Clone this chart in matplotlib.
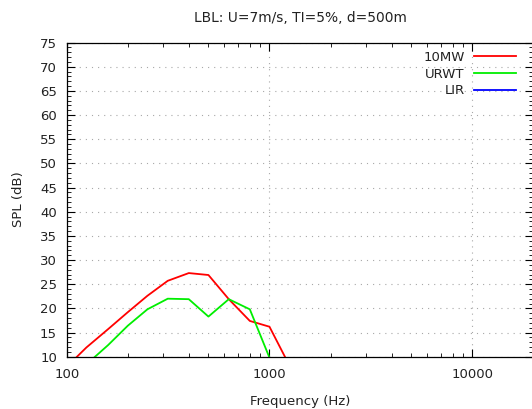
import matplotlib
matplotlib.use("Agg")
import matplotlib.pyplot as plt
from matplotlib.ticker import MultipleLocator, LogLocator, NullFormatter, FixedLocator

# One-third octave band centre frequencies (Hz)
freq = [100, 125, 160, 200, 250, 315, 400, 500, 630, 800, 1000, 1250, 1600]

# Sound pressure level per band (dB)
spl_10mw = [7.9, 11.9, 15.7, 19.2, 22.6, 25.7, 27.3, 26.9, 21.9, 17.4, 16.2, 8.3, 2.0]
spl_urwt = [4.5, 8.4, 12.4, 16.4, 19.8, 22.0, 21.9, 18.3, 21.9, 19.8, 9.8, 1.0, -6.0]
spl_lir = [-2.0, 0.5, 3.0, 5.0, 6.5, 7.5, 8.0, 7.0, 5.5, 3.5, 0.5, -4.0, -9.0]

series_labels = ["10MW", "URWT", "LIR"]
series_colors = ["#ff0000", "#00ee00", "#0000ff"]

title = "LBL: U=7m/s, TI=5%, d=500m"
xlabel = "Frequency (Hz)"
ylabel = "SPL (dB)"
x_major = [100, 1000, 10000]
x_major_labels = ["100", "1000", "10000"]
y_major = list(range(10, 80, 5))

W, H = 532, 409
fig = plt.figure(figsize=(W / 100, H / 100), dpi=100)
left, right, top, bottom = 66.7, 533.3, 42.5, 356.7
ax = fig.add_axes([left / W, 1 - bottom / H, (right - left) / W, (bottom - top) / H])

fs = 9.5
for y, lab, col in zip([spl_10mw, spl_urwt, spl_lir], series_labels, series_colors):
    ax.plot(freq, y, color=col, lw=1.3, label=lab, clip_on=True)

ax.set_xscale("log")
ax.set_xlim(100, 20000)
ax.set_ylim(10, 75)

ax.xaxis.set_major_locator(FixedLocator(x_major))
ax.set_xticklabels(x_major_labels)
ax.xaxis.set_minor_locator(LogLocator(base=10, subs=range(2, 10)))
ax.xaxis.set_minor_formatter(NullFormatter())
ax.yaxis.set_major_locator(FixedLocator(y_major))
ax.yaxis.set_minor_locator(MultipleLocator(1))

ax.tick_params(which="both", direction="in", top=True, right=True, colors="black",
               labelsize=fs, labelcolor="#222222")
ax.tick_params(which="major", length=6, width=0.8)
ax.tick_params(which="minor", length=3, width=0.6)
ax.tick_params(axis="x", which="major", pad=8)
ax.tick_params(axis="y", which="major", pad=7)

for s in ax.spines.values():
    s.set_linewidth(0.9)
    s.set_color("black")

ax.grid(True, which="major", color="#a8a8a8", linestyle=(0, (1, 4.5)), linewidth=0.8)

ax.set_title(title, fontsize=9.9, color="#222222", pad=15)
ax.set_xlabel(xlabel, fontsize=fs, color="#222222", labelpad=10)
ax.set_ylabel(ylabel, fontsize=fs, color="#222222", labelpad=11)

leg = ax.legend(loc="upper right", frameon=False, markerfirst=False, fontsize=fs,
                handlelength=3.2, handletextpad=0.7, labelspacing=0.28,
                borderpad=0, borderaxespad=0,
                bbox_to_anchor=(516 / W, 1 - 51 / H), bbox_transform=fig.transFigure)
for t in leg.get_texts():
    t.set_color("#222222")

fig.savefig("out.png", dpi=100)
